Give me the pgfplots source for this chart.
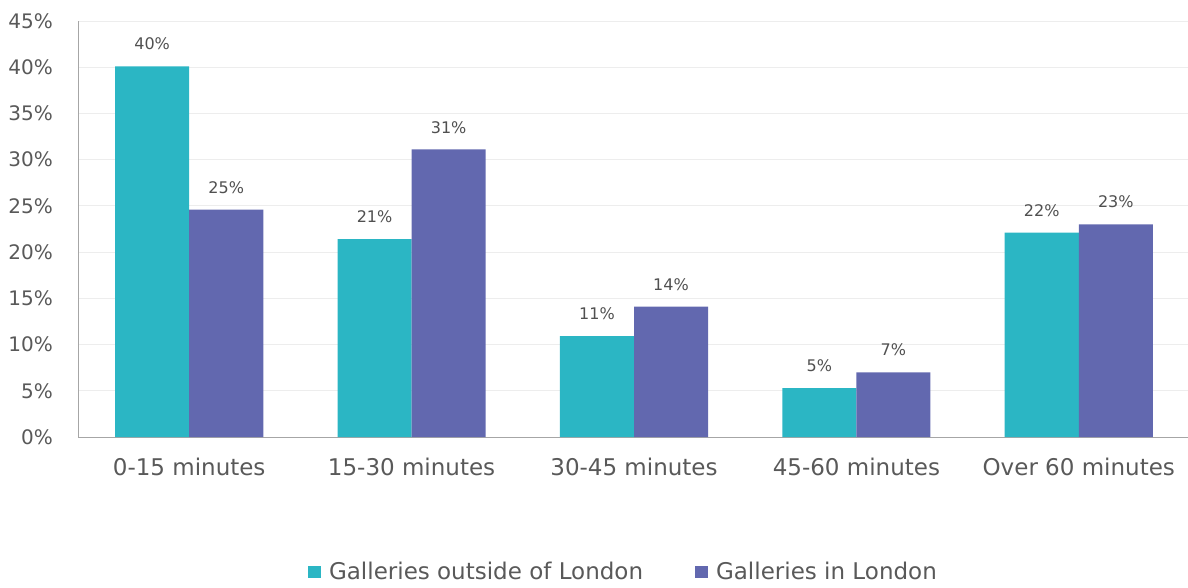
\documentclass[border=0pt]{standalone}
\usepackage{pgfplots}
\pgfplotsset{compat=1.18}
\usepackage{fontspec}
\setmainfont{DejaVu Sans}

\definecolor{outside}{HTML}{2BB6C4}
\definecolor{inlondon}{HTML}{6268AF}
\definecolor{txt}{HTML}{595959}
\definecolor{gridc}{HTML}{EDEDED}
\definecolor{axisc}{HTML}{A6A6A6}

\begin{document}
\begin{tikzpicture}[x=1pt,y=1pt]
\useasboundingbox (0,0) rectangle (1188,587);
\begin{axis}[
  at={(78pt,150pt)}, anchor=south west,
  scale only axis, width=1112pt, height=416pt,
  ymin=0, ymax=45, ytick={0,5,...,45},
  xmin=-0.5, xmax=4.5,
  xtick={0,1,2,3,4},
  xticklabels={0-15 minutes,15-30 minutes,30-45 minutes,45-60 minutes,Over 60 minutes},
  /pgf/number format/assume math mode=true,
  yticklabel={\pgfmathprintnumber{\tick}\%},
  axis x line*=bottom, axis y line*=left,
  axis line style={-, axisc, line width=0.9pt},
  major tick length=0pt,
  ymajorgrids, grid style={gridc, line width=0.8pt},
  yticklabel style={font=\fontsize{20}{24}\selectfont, text=txt, anchor=east, inner sep=0pt, xshift=-25pt},
  xticklabel style={font=\fontsize{23}{27}\selectfont, text=txt, anchor=north, inner sep=0pt, yshift=-21pt},
  ybar=0pt, bar width=0.333,
  nodes near coords={\pgfmathprintnumber[fixed,precision=0]{\pgfplotspointmeta}\%},
  nodes near coords style={font=\fontsize{16}{19}\selectfont, text=txt!90!black, anchor=south, inner sep=0pt, yshift=16pt},
  legend style={at={(0.4905,-0.3245)}, anchor=center, draw=none, fill=none,
    font=\fontsize{23}{27}\selectfont, text=txt,
    /tikz/every even column/.append style={column sep=50pt},
    nodes={inner sep=2pt}},
  legend columns=2,
  legend image code/.code={\fill[#1] (0pt,-6pt) rectangle (13pt,6pt); \path (19pt,0pt);},
]
\addplot[fill=outside, draw=none, bar shift=-0.1665] coordinates
  {(0,40.1) (1,21.4) (2,10.9) (3,5.3) (4,22.1)};
\addplot[fill=inlondon, draw=none, bar shift=0.1665] coordinates
  {(0,24.6) (1,31.1) (2,14.1) (3,7.0) (4,23.0)};
\legend{Galleries outside of London, Galleries in London}
\end{axis}
\end{tikzpicture}
\end{document}
